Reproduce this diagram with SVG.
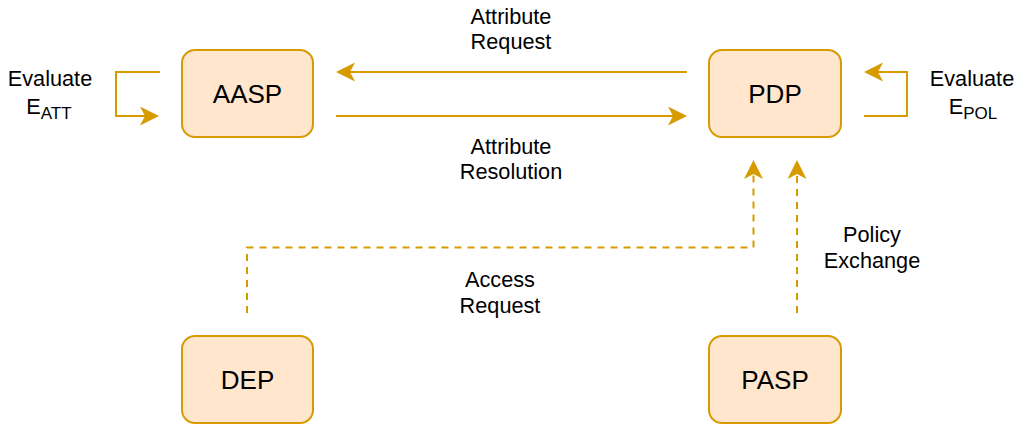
<svg xmlns="http://www.w3.org/2000/svg" width="1019" height="428" viewBox="0 0 1019 428">
  <style>
    .node rect { fill: #ffe6cc; stroke: #d79b00; stroke-width: 2; }
    .node text { font-family: "Liberation Sans", Arial, sans-serif; font-size: 26px; fill: #000; text-anchor: middle; }
    .edge { fill: none; stroke: #d79b00; stroke-width: 2; }
    .dashed { stroke-dasharray: 7 6; }
    .label { font-family: "Liberation Sans", Arial, sans-serif; font-size: 21.7px; fill: #000; text-anchor: middle; }
    .sub { font-size: 17px; }
  </style>
  <defs>
    <marker id="arrow" markerUnits="userSpaceOnUse" markerWidth="20" markerHeight="20" viewBox="0 0 20 20" refX="5" refY="9.5" orient="auto">
      <path d="M19,9.5 L0,0 L5,9.5 L0,19 Z" fill="#d79b00"/>
    </marker>
  </defs>

  <!-- connectors -->
  <g id="connectors">
    <path class="edge" d="M160,72 H116 V116 H145" marker-end="url(#arrow)"/>
    <path class="edge" d="M687,72 H350" marker-end="url(#arrow)"/>
    <path class="edge" d="M336,116 H673" marker-end="url(#arrow)"/>
    <path class="edge" d="M864,116 H907 V72 H878" marker-end="url(#arrow)"/>
    <path class="edge dashed" d="M247,313 V247.5 H753.5 V174" marker-end="url(#arrow)"/>
    <path class="edge dashed" d="M797,313 V174" marker-end="url(#arrow)"/>
  </g>

  <!-- connector labels -->
  <g id="labels">
    <text class="label" x="50" y="86">Evaluate</text>
    <text class="label" x="49" y="114">E<tspan class="sub" dy="5">ATT</tspan></text>
    <text class="label" x="972" y="86">Evaluate</text>
    <text class="label" x="973" y="114">E<tspan class="sub" dy="5">POL</tspan></text>
    <text class="label" x="511" y="24">Attribute</text>
    <text class="label" x="511" y="49">Request</text>
    <text class="label" x="511" y="154">Attribute</text>
    <text class="label" x="511" y="179">Resolution</text>
    <text class="label" x="500" y="287">Access</text>
    <text class="label" x="500" y="313">Request</text>
    <text class="label" x="872" y="242">Policy</text>
    <text class="label" x="872" y="268">Exchange</text>
  </g>

  <g id="aasp" class="node">
    <rect x="182" y="50" width="131" height="87" rx="13" ry="13"/>
    <text x="247.5" y="102.5">AASP</text>
  </g>
  <g id="pdp" class="node">
    <rect x="709" y="50" width="132" height="87" rx="13" ry="13"/>
    <text x="775" y="102.5">PDP</text>
  </g>
  <g id="dep" class="node">
    <rect x="182" y="336" width="131" height="87" rx="13" ry="13"/>
    <text x="247.5" y="388.5">DEP</text>
  </g>
  <g id="pasp" class="node">
    <rect x="709" y="336" width="132" height="87" rx="13" ry="13"/>
    <text x="775" y="388.5">PASP</text>
  </g>
</svg>
